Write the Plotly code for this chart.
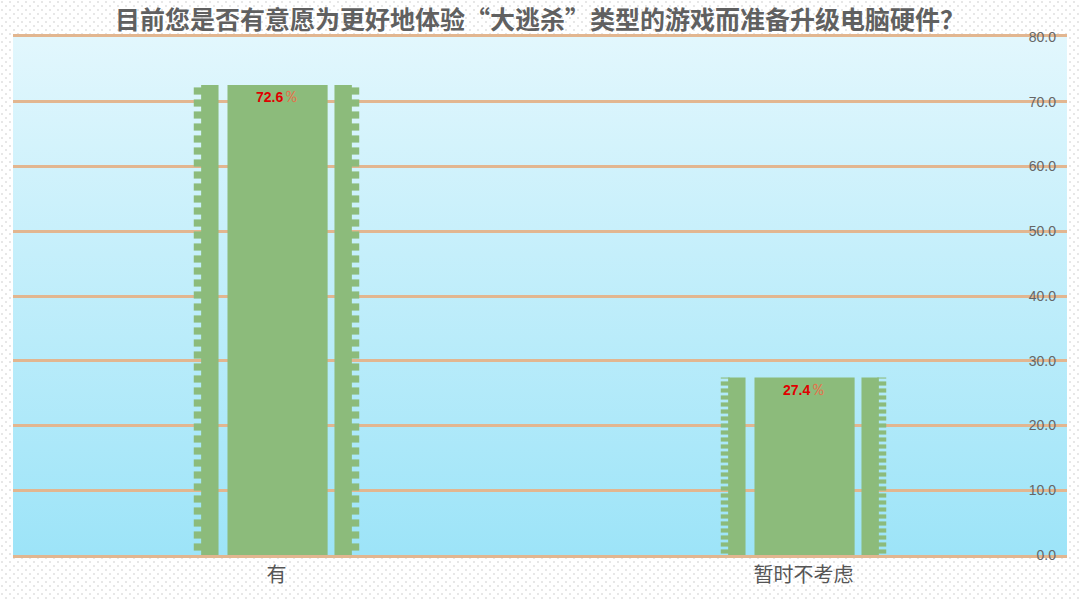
import base64
import plotly.graph_objects as go

# data
categories = ["有", "暂时不考虑"]
values = [72.6, 27.4]
value_labels = ["72.6", "27.4"]
tick_vals = [0, 10, 20, 30, 40, 50, 60, 70, 80]

green = "#8cbb7b"
grid = "#e2b690"

# dotted paper background and light-blue gradient plot area (as svg images)
dots_svg = """<svg xmlns='http://www.w3.org/2000/svg' width='1080' height='600' viewBox='0 0 1080 600' preserveAspectRatio='none'>
<defs><pattern id='p' width='8' height='8' patternUnits='userSpaceOnUse'>
<circle cx='2' cy='2' r='0.8' fill='#c9c9c9'/><circle cx='6' cy='6' r='0.8' fill='#c9c9c9'/></pattern></defs>
<rect width='1080' height='600' fill='#ffffff'/><rect width='1080' height='600' fill='url(#p)'/></svg>"""
grad_svg = """<svg xmlns='http://www.w3.org/2000/svg' width='100' height='100' viewBox='0 0 100 100' preserveAspectRatio='none'>
<defs><linearGradient id='g' x1='0' y1='0' x2='0' y2='1'>
<stop offset='0' stop-color='#e2f7fd'/><stop offset='1' stop-color='#9de4f8'/></linearGradient></defs>
<rect width='100' height='100' fill='url(#g)'/></svg>"""


def svg_uri(s):
    return "data:image/svg+xml;base64," + base64.b64encode(s.encode()).decode()


L, R, T, B = 13, 13, 37, 45
W, H = 1080, 600
pw, ph = W - L - R, H - T - B

fig = go.Figure()

# main bar body
fig.add_trace(go.Bar(
    x=categories, y=values, width=0.19, offset=-0.093,
    marker=dict(color=green, line=dict(width=0)),
    text=[f"<b>{v}</b><span style='color:#e8704a;font-size:16px'>％</span>" for v in value_labels],
    textposition="inside", insidetextanchor="end", textangle=0,
    textfont=dict(color="#e00000", size=14, family="Arial"),
    hoverinfo="skip", showlegend=False,
))

# side strips (solid inner part)
for off in [-0.143, 0.110]:
    fig.add_trace(go.Bar(
        x=categories, y=values, width=0.033, offset=off,
        marker=dict(color=green, line=dict(width=0)),
        hoverinfo="skip", showlegend=False,
    ))

# side strips (scalloped outer edge)
for off in [-0.157, 0.140]:
    fig.add_trace(go.Bar(
        x=categories, y=values, width=0.017, offset=off,
        marker=dict(color="rgba(0,0,0,0)", line=dict(width=0),
                    pattern=dict(shape="-", fgcolor=green, bgcolor="rgba(0,0,0,0)",
                                 size=[12, 7], solidity=0.6, fillmode="replace")),
        hoverinfo="skip", showlegend=False,
    ))

fig.update_layout(
    width=W, height=H,
    margin=dict(l=L, r=R, t=T, b=B),
    paper_bgcolor="white",
    plot_bgcolor="rgba(0,0,0,0)",
    barmode="overlay",
    title=dict(
        text="<b>目前您是否有意愿为更好地体验“大逃杀”类型的游戏而准备升级电脑硬件？</b>",
        x=0.5, xanchor="center", y=0.967, yanchor="middle",
        font=dict(family="Noto Sans CJK SC", size=25, color="#606060"),
    ),
    xaxis=dict(
        showline=True, linecolor=grid, linewidth=3, mirror=True,
        showgrid=False, ticks="",
        tickfont=dict(family="Noto Sans CJK SC", size=20, color="#555555"),
        range=[-0.5, 1.5],
    ),
    yaxis=dict(
        side="right", ticklabelposition="inside", ticklabeloverflow="allow",
        ticklabelstandoff=8, range=[0, 80],
        tickvals=tick_vals, tickformat=".1f",
        showgrid=True, gridcolor=grid, gridwidth=3,
        zeroline=False, showline=False, ticks="",
        tickfont=dict(family="Arial", size=14, color="#666666"),
    ),
    images=[
        dict(source=svg_uri(dots_svg), xref="paper", yref="paper",
             x=-L / pw, y=1 + T / ph, sizex=W / pw, sizey=H / ph,
             xanchor="left", yanchor="top", sizing="stretch", layer="below"),
        dict(source=svg_uri(grad_svg), xref="paper", yref="paper",
             x=0, y=1, sizex=1, sizey=1,
             xanchor="left", yanchor="top", sizing="stretch", layer="below"),
    ],
)

fig.write_html("out.html", config={"displayModeBar": False},
               post_script="document.body.style.margin='0';")
